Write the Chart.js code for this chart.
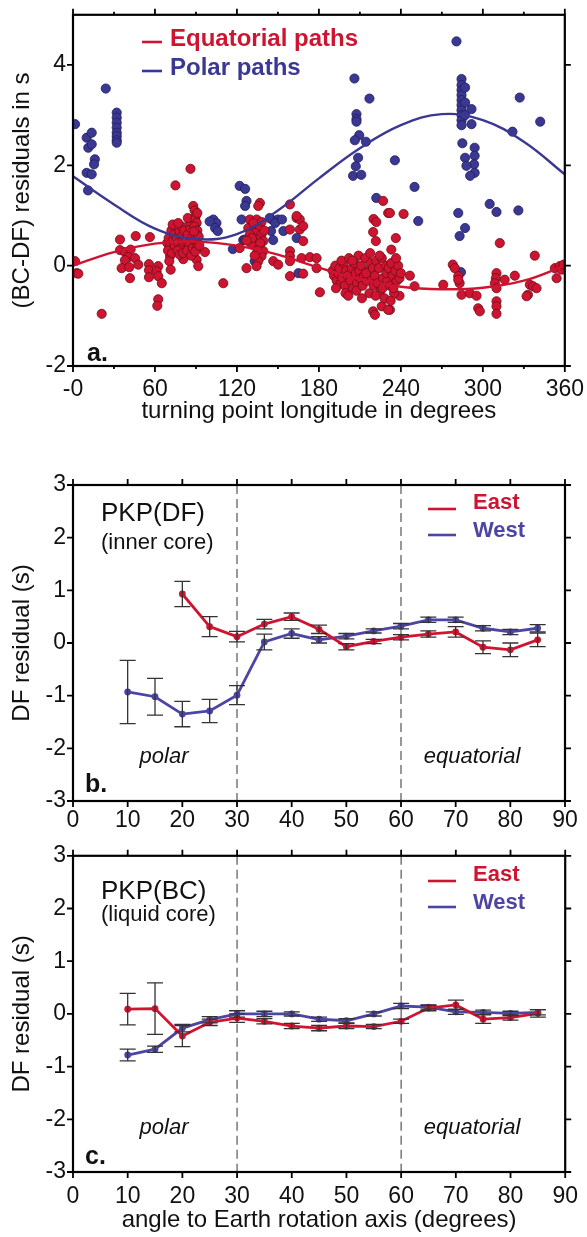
<!DOCTYPE html>
<html>
<head>
<meta charset="utf-8">
<script src="https://cdn.jsdelivr.net/npm/chart.js@4.4.1/dist/chart.umd.min.js"></script>
<style>
html, body { margin: 0; padding: 0; background: #fff; overflow: hidden; }
#wrap { position: relative; width: 587px; height: 1237px; overflow: hidden; }
canvas { position: absolute; left: 0; }
</style>
</head>
<body>
<div id="wrap">
  <canvas id="chartA" width="594" height="436" style="top:-6px"></canvas>
  <canvas id="chartB" width="587" height="405" style="top:430px"></canvas>
  <canvas id="chartC" width="589" height="402" style="top:835px"></canvas>
</div>
<script>
// --- panel a: turning point longitude vs (BC-DF) residual ---
const lonTicks = [0, 60, 120, 180, 240, 300, 360];
const lonLabels = ['-0', '60', '120', '180', '240', '300', '360'];
const lonMinor = [30, 90, 150, 210, 270, 330];
const resTicks = [-2, 0, 2, 4];

// equatorial paths [lon, residual]
const eqPts = [
  // 0 - 66
  [1.5,0.09],[2.7,-0.15],[3.9,-0.16],[21,-0.96],[34.4,0.52],[45.9,0.59],[56.3,0.57],[34.4,0.31],[38,0.27],[42.2,0.32],
  [40.5,0.17],[38,0.11],[45.4,0.15],[35.6,-0.05],[41.2,-0.03],[47.8,0.02],[41.7,-0.25],[55.6,0.03],[62.4,-0.01],[55.6,-0.09],
  [61.2,-0.11],[55.6,-0.23],[62.4,-0.21],[65,-0.35],[62.4,-0.67],[61.7,-0.8],
  // 66 - 112
  [75,1.6],[86,1.93],[88,1.19],[71,0.19],[70.5,0.09],[71.5,-0.08],[80.7,0.13],[90.5,0.12],[91.7,-0.01],[96.6,0.27],[110,-0.35],
  [69,0.45],[70,0.55],[71,0.38],[72,0.7],[73,0.5],[74,0.62],[69.5,0.3],[72.5,0.25],[74.5,0.4],[73,0.82],
  [76,0.55],[77,0.45],[78,0.68],[79,0.35],[80,0.6],[81,0.48],[76.5,0.3],[79.5,0.78],[78,0.22],[81.5,0.7],[77,0.85],[80.5,0.25],
  [83,0.5],[84,0.62],[85,0.4],[86,0.75],[87,0.55],[83.5,0.3],[85.5,0.88],[86.5,0.2],[84,0.95],[87.5,0.35],
  [89,1.1],[90,1.0],[89.5,0.92],[90.5,0.85],[89,0.78],[91,0.7],[90,0.62],[89,0.52],[91.5,0.45],[90.5,0.35],[89.5,0.28],
  [91,1.05],[92,0.58],[92.5,0.4],[88.5,0.68],
  // 120 - 182
  [127,-0.05],[136.8,1.25],[135.6,1.19],[158.8,1.22],[129.5,0.92],[134.4,0.92],[138,0.87],[131.9,0.79],[128.3,0.75],[136.8,0.72],
  [133.1,0.65],[129.5,0.62],[138,0.62],[134.4,0.52],[139.3,0.49],[130.8,0.42],[136.8,0.35],[139.3,0.29],[138,0.19],[135.6,0.09],
  [134.4,-0.01],[122,0.35],[163.7,0.95],[166,0.92],[158.8,0.72],[166,0.72],[168.5,0.79],[168.5,0.49],[158.8,0.29],[158.8,0.19],
  [158.8,0.09],[146.6,0.09],[150.2,0.02],[167.3,0.15],[173.4,0.17],[178.3,0.15],[178.3,-0.05],[158.8,-0.21],[168.5,-0.16],[180.7,-0.53],
  [163.7,0.99],[132,0.85],[137,0.45],[131,0.55],[135,0.3],[133,0.2],[140,0.7],[127,0.5],
  // 186 - 250
  [220,0.93],[222,0.87],[227,1.29],[230.7,1.05],[219.7,0.67],[221.7,0.49],[236.3,0.55],[233,0.32],[232,1.05],[242,1.03],
  [246.6,-0.2],[250,-0.41],[239,-0.6],[232,-0.88],[219.7,-0.91],[221,-0.98],[226,-0.81],[230.7,-0.88],
  [190,-0.1],[191,-0.2],[192,0.0],[193,-0.3],[194,-0.15],[195,-0.05],[196,-0.35],[197,-0.25],[198,0.05],[199,-0.4],
  [200,-0.1],[192.5,-0.45],[196.5,0.1],[199.5,-0.55],
  [201,-0.2],[202,0.15],[203,-0.3],[204,-0.05],[205,-0.45],[206,0.05],[207,-0.15],[208,-0.35],[209,0.2],[210,-0.25],
  [201.5,-0.6],[204.5,0.1],[207.5,-0.5],[209.5,-0.1],
  [211,0.0],[212,-0.4],[213,-0.2],[214,0.15],[215,-0.3],[216,-0.1],[217,-0.55],[218,0.05],[219,-0.25],[220,-0.4],
  [211.5,-0.65],[214.5,-0.15],[217.5,0.25],[219.5,-0.05],
  [221,-0.2],[222,0.1],[223,-0.35],[224,-0.05],[225,-0.5],[226,0.15],[227,-0.25],[228,-0.65],[229,0.0],[230,-0.3],
  [221.5,-0.6],[224.5,0.2],[226.5,-0.45],[229.5,-0.15],
  [231,-0.05],[232,-0.4],[233,0.05],[234,-0.2],[235,-0.55],[236,-0.1],[237,-0.3],[238,0.0],[239,-0.25],[240,-0.15],
  [232.5,-0.7],[236.5,0.15],[234.5,-0.45],
  // 270 - 360
  [278,0.02],[279.5,-0.05],[282,-0.21],[283,-0.35],[282,-0.28],[271,-0.38],[284.4,-0.58],[290.5,-0.55],[295.4,-0.6],[296.6,-0.85],
  [297.8,-0.91],[312.4,0.45],[310,-0.15],[309.5,-0.25],[308.8,-0.35],[310,-0.45],[316,-0.28],[310,-0.71],[310,-0.81],[310,-0.96],
  [323.4,-0.2],[338,0.2],[334.4,-0.38],[333,-0.58],[332,-0.61],[336.8,-0.41],[339.3,-0.45],[352.7,-0.05],[356.3,-0.01],[354,-0.25],
  [357.6,-0.08],[359,0.02]
];

// polar paths [lon, residual]
const polPts = [
  [1.5,2.82],[10,2.55],[13.7,2.65],[11.2,2.35],[13.7,2.42],[16,2.12],[15.4,2.02],[10,1.85],[13.7,1.82],[11,1.5],[24,3.53],
  [32,3.05],[32,2.95],[32,2.85],[32,2.75],[32,2.65],[32,2.58],[32,2.5],[32,2.45],
  [102.7,0.92],[105,0.85],[104,0.75],[106,0.69],[100,0.88],[117,0.33],[122,1.59],[126,1.53],[127,1.29],[126,1.19],[123.4,0.92],
  [145,0.93],[150,0.92],[145,0.69],[154,0.69],[146.5,0.51],[124.6,0.51],[163.7,0.55],[165,-0.15],[133,0.09],[144,0.95],
  [148,0.85],[126,0.52],[132,0.59],[153,0.92],
  [206,3.73],[217,3.33],[207.5,3.02],[207.5,2.92],[207.5,2.87],[209.5,2.6],[206.3,2.5],[214.4,2.47],[208.7,2.15],[207,1.98],
  [205,1.79],[211,1.81],[235.6,2.1],[250,1.57],[222,1.35],
  [280.7,4.47],[284.4,3.72],[284.4,3.6],[284.4,3.5],[284.4,3.4],[284.4,3.3],[284.4,3.2],[284.4,3.1],[284.4,3.0],[284.4,2.9],
  [284.4,2.8],[287,3.55],[287,3.25],[287,3.0],[291.7,3.12],[291.7,2.82],[285,2.44],[294,2.35],[294,2.19],[287,2.15],
  [293.6,2.02],[288,1.99],[294,1.85],[290.7,1.79],[327,3.35],[342,2.87],[321.7,2.67],[282,1.05],[252.7,0.89],[287,0.75],
  [283,0.59],[305,1.23],[310,1.07],[326,1.1],[284,-0.13]
];

// fitted curves
const fitLon = [0, 30, 60, 90, 120, 150, 180, 210, 240, 270, 300, 330, 360];
const eqFit = [0, 0.27, 0.44, 0.48, 0.4, 0.22, -0.04, -0.27, -0.42, -0.47, -0.44, -0.3, 0];
const polFit = [1.78, 1.22, 0.74, 0.53, 0.63, 1.1, 1.74, 2.34, 2.8, 3.02, 2.9, 2.47, 1.82];

// --- panels b and c: angle to rotation axis ---
const angles = [10, 15, 20, 25, 30, 35, 40, 45, 50, 55, 60, 65, 70, 75, 80, 85];
const angTicks = [0, 10, 20, 30, 40, 50, 60, 70, 80, 90];
const dfTicks = [-3, -2, -1, 0, 1, 2, 3];
const dividers = [30, 60];

const dfEast    = [null, null, 0.93, 0.31, 0.12, 0.36, 0.50, 0.26, -0.07, 0.03, 0.11, 0.17, 0.21, -0.08, -0.13, 0.06];
const dfEastErr = [null, null, 0.24, 0.19, 0.10, 0.09, 0.07, 0.08, 0.06, 0.04, 0.05, 0.06, 0.10, 0.12, 0.13, 0.13];
const dfWest    = [-0.93, -1.02, -1.35, -1.29, -0.99, 0.02, 0.18, 0.06, 0.13, 0.23, 0.32, 0.44, 0.44, 0.28, 0.21, 0.28];
const dfWestErr = [0.60, 0.35, 0.24, 0.22, 0.18, 0.15, 0.09, 0.06, 0.05, 0.04, 0.05, 0.05, 0.05, 0.05, 0.05, 0.07];

const bcEast    = [0.09, 0.10, -0.42, -0.16, -0.08, -0.14, -0.23, -0.27, -0.23, -0.24, -0.14, 0.11, 0.17, -0.10, -0.07, 0.01];
const bcEastErr = [0.30, 0.49, 0.20, 0.06, 0.08, 0.05, 0.05, 0.05, 0.05, 0.04, 0.04, 0.05, 0.09, 0.08, 0.05, 0.07];
const bcWest    = [-0.78, -0.67, -0.27, -0.11, 0.0, 0.0, 0.0, -0.10, -0.13, 0.0, 0.15, 0.13, 0.04, 0.03, 0.01, 0.03];
const bcWestErr = [0.11, 0.06, 0.07, 0.06, 0.06, 0.05, 0.04, 0.04, 0.04, 0.04, 0.05, 0.04, 0.05, 0.04, 0.04, 0.05];

const RED = '#cf1431';
const BLUE = '#3b3893';
const BLUE2 = '#4d45a3';
const FONT = '"Liberation Sans", Arial, Helvetica, sans-serif';

Chart.defaults.font.family = FONT;
Chart.defaults.color = '#111';

// frame box + tick marks on all four sides
const frameTicks = {
  id: 'frameTicks',
  afterDatasetsDraw(chart, args, o) {
    const { ctx, chartArea: a } = chart;
    const x = chart.scales.x, y = chart.scales.y;
    ctx.save();
    ctx.strokeStyle = '#000';
    ctx.lineWidth = 1.8;
    ctx.beginPath();
    const xt = (v, len) => {
      const p = x.getPixelForValue(v);
      ctx.moveTo(p, a.bottom); ctx.lineTo(p, a.bottom + len);
      ctx.moveTo(p, a.top); ctx.lineTo(p, a.top - len);
    };
    const yt = (v, len) => {
      const p = y.getPixelForValue(v);
      ctx.moveTo(a.left, p); ctx.lineTo(a.left - len, p);
      ctx.moveTo(a.right, p); ctx.lineTo(a.right + len, p);
    };
    o.xMajor.forEach(v => xt(v, 6));
    (o.xMinor || []).forEach(v => xt(v, 3));
    o.yMajor.forEach(v => yt(v, 6));
    ctx.stroke();
    ctx.lineWidth = 2.2;
    ctx.strokeRect(a.left, a.top, a.right - a.left, a.bottom - a.top);
    ctx.restore();
  }
};

// dashed dividers at 30 and 60 degrees
const dividerLines = {
  id: 'dividerLines',
  beforeDatasetsDraw(chart, args, o) {
    if (!o.at) return;
    const { ctx, chartArea: a } = chart;
    ctx.save();
    ctx.strokeStyle = '#555';
    ctx.lineWidth = 1.2;
    ctx.setLineDash([9, 5]);
    o.at.forEach(v => {
      const p = chart.scales.x.getPixelForValue(v);
      ctx.beginPath(); ctx.moveTo(p, a.top); ctx.lineTo(p, a.bottom); ctx.stroke();
    });
    ctx.restore();
  }
};

// error bars with caps, from dataset.errors
const errorBars = {
  id: 'errorBars',
  afterDatasetsDraw(chart) {
    const { ctx } = chart;
    const x = chart.scales.x, y = chart.scales.y;
    ctx.save();
    ctx.strokeStyle = '#333';
    ctx.lineWidth = 1.3;
    chart.data.datasets.forEach(ds => {
      if (!ds.errors) return;
      ds.data.forEach((pt, i) => {
        const e = ds.errors[i];
        if (pt.y === null || e === null) return;
        const px = x.getPixelForValue(pt.x);
        const top = y.getPixelForValue(pt.y + e);
        const bot = y.getPixelForValue(pt.y - e);
        ctx.beginPath();
        ctx.moveTo(px, top); ctx.lineTo(px, bot);
        ctx.moveTo(px - 8, top); ctx.lineTo(px + 8, top);
        ctx.moveTo(px - 8, bot); ctx.lineTo(px + 8, bot);
        ctx.stroke();
      });
    });
    ctx.restore();
  }
};

// free text and legend dashes
const notes = {
  id: 'notes',
  afterDraw(chart, args, o) {
    const ctx = chart.ctx;
    ctx.save();
    (o.dashes || []).forEach(d => {
      ctx.strokeStyle = d.color;
      ctx.lineWidth = 2.6;
      ctx.beginPath(); ctx.moveTo(d.x1, d.y); ctx.lineTo(d.x2, d.y); ctx.stroke();
    });
    (o.items || []).forEach(t => {
      ctx.font = t.font;
      ctx.fillStyle = t.color || '#111';
      ctx.textAlign = t.align || 'left';
      ctx.textBaseline = 'middle';
      ctx.fillText(t.text, t.x, t.y);
    });
    ctx.restore();
  }
};

function xAxis(min, max, vals, labels, height, pad, title) {
  return {
    type: 'linear', min: min, max: max,
    grid: { display: false, drawTicks: false },
    border: { display: false },
    afterBuildTicks: s => { s.ticks = vals.map(v => ({ value: v })); },
    afterFit: s => { s.height = height; },
    ticks: {
      autoSkip: false, maxRotation: 0, padding: pad, color: '#111',
      font: { size: 23 },
      callback: v => labels[vals.indexOf(v)]
    },
    title: { display: !!title, text: title || '', color: '#111', font: { size: 24 }, padding: 0 }
  };
}

function yAxis(min, max, vals, title) {
  return {
    type: 'linear', min: min, max: max,
    grid: { display: false, drawTicks: false },
    border: { display: false },
    afterBuildTicks: s => { s.ticks = vals.map(v => ({ value: v })); },
    afterFit: s => { s.width = 73; },
    ticks: { autoSkip: false, padding: 7, color: '#111', font: { size: 23 }, callback: v => String(v) },
    title: { display: true, text: title, color: '#111', font: { size: 24 }, padding: { top: 8, bottom: 0 } }
  };
}

// panel a
new Chart(document.getElementById('chartA'), {
  type: 'scatter',
  data: {
    datasets: [
      { label: 'eqFit', showLine: true, order: 0, data: fitLon.map((v, i) => ({ x: v, y: eqFit[i] })),
        borderColor: RED, borderWidth: 2.4, pointRadius: 0, tension: 0.4, fill: false },
      { label: 'polFit', showLine: true, order: 1, data: fitLon.map((v, i) => ({ x: v, y: polFit[i] })),
        borderColor: BLUE, borderWidth: 2.4, pointRadius: 0, tension: 0.4, fill: false },
      { label: 'Equatorial paths', order: 2, data: eqPts.map(p => ({ x: p[0], y: p[1] })),
        backgroundColor: RED, borderColor: '#6e0c18', borderWidth: 0.8, pointRadius: 4.6 },
      { label: 'Polar paths', order: 3, data: polPts.map(p => ({ x: p[0], y: p[1] })),
        backgroundColor: BLUE, borderColor: '#1f1d5c', borderWidth: 0.8, pointRadius: 4.6 }
    ]
  },
  options: {
    responsive: false, animation: false,
    layout: { padding: { top: 0, right: 22, bottom: 4, left: 0 } },
    scales: {
      x: xAxis(0, 360, lonTicks, lonLabels, 60, 10, 'turning point longitude in degrees'),
      y: yAxis(-2, 5, resTicks, '(BC-DF) residuals in s')
    },
    plugins: {
      legend: { display: false }, tooltip: { enabled: false },
      frameTicks: { xMajor: lonTicks, xMinor: lonMinor, yMajor: resTicks },
      notes: {
        dashes: [{ x1: 142, x2: 162, y: 48, color: RED }, { x1: 142, x2: 162, y: 77, color: BLUE }],
        items: [
          { text: 'Equatorial paths', x: 170, y: 45, font: 'bold 24px ' + FONT, color: RED },
          { text: 'Polar paths', x: 170, y: 74, font: 'bold 24px ' + FONT, color: BLUE },
          { text: 'a.', x: 87, y: 360, font: 'bold 25px ' + FONT, color: '#111' }
        ]
      }
    }
  },
  plugins: [frameTicks, notes]
});

function anglePanel(id, east, eastErr, west, westErr, opts) {
  return new Chart(document.getElementById(id), {
    type: 'line',
    data: {
      datasets: [
        { label: 'East', data: angles.map((a, i) => ({ x: a, y: east[i] })), errors: eastErr,
          borderColor: RED, backgroundColor: RED, borderWidth: 2.8, pointRadius: 3.4, pointBorderWidth: 0, tension: 0 },
        { label: 'West', data: angles.map((a, i) => ({ x: a, y: west[i] })), errors: westErr,
          borderColor: BLUE2, backgroundColor: BLUE2, borderWidth: 2.8, pointRadius: 3.4, pointBorderWidth: 0, tension: 0 }
      ]
    },
    options: {
      responsive: false, animation: false,
      layout: { padding: opts.padding },
      scales: {
        x: xAxis(0, 90, angTicks, angTicks.map(String), opts.xHeight, opts.tickPad, opts.xTitle),
        y: yAxis(-3, 3, dfTicks, 'DF residual (s)')
      },
      plugins: {
        legend: { display: false }, tooltip: { enabled: false },
        frameTicks: { xMajor: angTicks, yMajor: dfTicks },
        dividerLines: { at: dividers },
        notes: opts.notes
      }
    },
    plugins: [dividerLines, errorBars, frameTicks, notes]
  });
}

function panelNotes(title, sub, tY, sY, textY, tagY, legY, tag) {
  return {
    dashes: [{ x1: 428, x2: 456, y: legY + 6, color: RED }, { x1: 428, x2: 456, y: legY + 32, color: BLUE2 }],
    items: [
      { text: title, x: 101, y: tY, font: '26px ' + FONT },
      { text: sub, x: 101, y: sY, font: '22px ' + FONT },
      { text: 'polar', x: 164, y: textY, font: 'italic 22px ' + FONT, align: 'center' },
      { text: 'equatorial', x: 472, y: textY, font: 'italic 22px ' + FONT, align: 'center' },
      { text: tag, x: 85, y: tagY, font: 'bold 25px ' + FONT },
      { text: 'East', x: 473, y: legY, font: 'bold 22px ' + FONT, color: RED },
      { text: 'West', x: 473, y: legY + 28, font: 'bold 22px ' + FONT, color: BLUE2 }
    ]
  };
}

// panel b
anglePanel('chartB', dfEast, dfEastErr, dfWest, dfWestErr, {
  padding: { top: 55, right: 22, bottom: 1, left: 0 }, xHeight: 33, tickPad: 6, xTitle: null,
  notes: panelNotes('PKP(DF)', '(inner core)', 84, 113, 327, 355, 73, 'b.')
});

// panel c
anglePanel('chartC', bcEast, bcEastErr, bcWest, bcWestErr, {
  padding: { top: 0, right: 22, bottom: 2, left: 0 }, xHeight: 63, tickPad: 11,
  xTitle: 'angle to Earth rotation axis (degrees)',
  notes: panelNotes('PKP(BC)', '(liquid core)', 57, 80, 293, 322, 40, 'c.')
});
</script>
</body>
</html>
